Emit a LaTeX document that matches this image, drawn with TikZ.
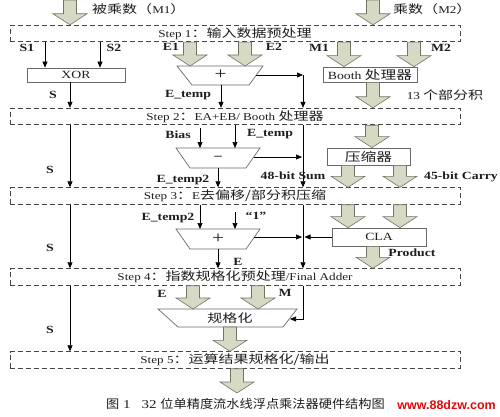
\documentclass[tikz,border=0pt]{standalone}
\usepackage{fontspec}
\setmainfont{Liberation Serif}[FakeStretch=1.25]
\newfontfamily\cjk{Noto Sans CJK SC}[Scale=1.1,FakeStretch=1.3]
\newfontfamily\capcjk{Noto Sans CJK SC}[FakeStretch=1.1]
\newfontfamily\wmfont{Liberation Sans}
\usetikzlibrary{arrows.meta,calc}
\definecolor{fatfill}{RGB}{214,217,196}
\definecolor{fatline}{RGB}{115,115,100}
\definecolor{boxline}{RGB}{105,105,105}
\definecolor{dashline}{RGB}{70,70,70}
\definecolor{txt}{RGB}{30,30,30}
\definecolor{wmred}{RGB}{225,10,10}
\tikzset{
  stepbox/.style={draw=dashline, dash pattern=on 5pt off 3pt, line width=0.9pt,
    minimum width=450pt, minimum height=16.5pt, inner sep=0pt, text=txt},
  procbox/.style={draw=boxline, line width=0.7pt, inner sep=0pt, fill=white, text=txt,
    font=\fontsize{11}{12}\selectfont},
  arr/.style={-{Triangle[length=6pt,width=5pt]}, line width=0.7pt, draw=black},
  fat/.style={fill=fatfill, draw=fatline, line width=0.6pt},
  trap/.style={draw=boxline, line width=0.7pt},
  lbl/.style={inner sep=0pt, text=txt, font=\fontsize{11}{12}\selectfont\bfseries},
}
\newcommand\fatarr[3]{%
  \filldraw[fat] let \p1=#2, \p2=#3 in
    ({#1pt-6.5pt},\y1) -- ({#1pt+6.5pt},\y1) -- ({#1pt+6.5pt},\y2+11pt)
    -- ({#1pt+17pt},\y2+11pt) -- ({#1pt},\y2) -- ({#1pt-17pt},\y2+11pt)
    -- ({#1pt-6.5pt},\y2+11pt) -- cycle;}
\begin{document}
\begin{tikzpicture}[x=1pt,y=-1pt, every node/.style={font=\fontsize{10.5}{12}\selectfont}]
\useasboundingbox[fill=white] (0,0) rectangle (500,417);

% coordinates
\coordinate (inL) at (70,0);
\coordinate (inR) at (373,0);
\coordinate (add1top) at (220,66);
\coordinate (add1b) at (221,85);
\coordinate (add1out) at (256,75);
\coordinate (j1) at (303,75);
\coordinate (subtop) at (218,148);
\coordinate (subb) at (218,168);
\coordinate (subout) at (254,157);
\coordinate (biasin) at (200,128);
\coordinate (j2) at (303,157);
\coordinate (add2top) at (218,229);
\coordinate (add2b) at (218,249);
\coordinate (add2out) at (254,237);
\coordinate (onein) at (235,212);
\coordinate (j3) at (303,237);
\coordinate (normtop) at (230,309);
\coordinate (normbot) at (230,327);
\coordinate (normin) at (290,319);
\coordinate (outB) at (237,393);

% step boxes
\node[stepbox] (st1) at (235,33.5) {Step 1{\cjk ：输入数据预处理}};
\node[stepbox] (st2) at (235,116.5) {Step 2{\cjk ：}EA+EB/ Booth {\cjk 处理器}};
\node[stepbox] (st3) at (235,196) {Step 3{\cjk ：}E{\cjk 去偏移/部分积压缩}};
\node[stepbox] (st4) at (235,277) {Step 4{\cjk ：指数规格化预处理}/Final Adder};
\node[stepbox] (st5) at (235,360) {Step 5{\cjk ：运算结果规格化/输出}};

% process boxes
\node[procbox, minimum width=98pt, minimum height=14pt] (xor) at (76,75) {XOR};
\node[procbox, minimum width=94pt, minimum height=15pt] (booth) at (370,74.5) {Booth {\cjk 处理器}};
\node[procbox, minimum width=83pt, minimum height=17pt] (comp) at (368.5,156.5) {\cjk 压缩器};
\node[procbox, minimum width=94pt, minimum height=18pt] (cla) at (379,237) {CLA};

% trapezoids
\draw[trap] (177,66) -- (263,66) -- (249,85) -- (192,85) -- cycle;
\node[text=txt] (add1) at (220.5,75) {\fontsize{17}{17}\selectfont +};
\draw[trap] (176,148) -- (260,148) -- (246,168) -- (190,168) -- cycle;
\node[text=txt] (sub) at (218,158) {\fontsize{12}{12}\selectfont\bfseries –};
\draw[trap] (176,229) -- (260,229) -- (246,249) -- (190,249) -- cycle;
\node[text=txt] (add2) at (218,239) {\fontsize{17}{17}\selectfont +};
\draw[trap] (158,309) -- (297,309) -- (283,327) -- (178,327) -- cycle;
\node[text=txt] (norm) at (230,318) {\cjk 规格化};

% fat arrows
\fatarr{70}{(inL)}{(st1.north)}
\fatarr{373}{(inR)}{(st1.north)}
\fatarr{190}{(st1.south)}{(add1top)}
\fatarr{245}{(st1.south)}{(add1top)}
\fatarr{344}{(st1.south)}{(booth.north)}
\fatarr{414}{(st1.south)}{(booth.north)}
\fatarr{373}{(booth.south)}{(st2.north)}
\fatarr{372}{(st2.south)}{(comp.north)}
\fatarr{348}{(comp.south)}{(st3.north)}
\fatarr{400}{(comp.south)}{(st3.north)}
\fatarr{348}{(st3.south)}{(cla.north)}
\fatarr{400}{(st3.south)}{(cla.north)}
\fatarr{373}{(cla.south)}{(st4.north)}
\fatarr{193}{(st4.south)}{(normtop)}
\fatarr{258}{(st4.south)}{(normtop)}
\fatarr{230}{(normbot)}{(st5.north)}
\fatarr{237}{(st5.south)}{(outB)}

% thin arrows, step 1
\draw[arr] (st1.south -| 45,0) -- (xor.north -| 45,0);
\draw[arr] (st1.south -| 100,0) -- (xor.north -| 100,0);
\draw[arr] (xor.south -| 70,0) -- (st2.north -| 70,0);
\draw[arr] (add1b) -- (st2.north -| add1b);
\draw[arr] (add1out) -- (j1);
\draw[arr] (j1) -- (st2.north -| j1);
% step 2
\draw[arr] (st2.south -| 70,0) -- (st3.north -| 70,0);
\draw[arr] (biasin) -- (subtop -| biasin);
\draw[arr] (st2.south -| 235,0) -- (subtop -| 235,0);
\draw[arr] (subb) -- (st3.north -| subb);
\draw[arr, shorten >=1pt] (subout) -- (j2);
\draw[arr] (st2.south -| j2) -- (st3.north -| j2);
% step 3
\draw[arr] (st3.south -| 70,0) -- (st4.north -| 70,0);
\draw[arr] (st3.south -| 200,0) -- (add2top -| 200,0);
\draw[arr] (onein) -- (add2top -| onein);
\draw[arr] (add2b) -- (st4.north -| add2b);
\draw[arr, shorten >=1pt] (add2out) -- (j3);
\draw[arr, shorten >=1.5pt] (cla.west) -- (j3);
\draw[arr] (st3.south -| j3) -- (st4.north -| j3);
% step 4
\draw[arr] (st4.south -| 70,0) -- (st5.north -| 70,0);
\draw[arr] (st4.south -| 303,0) |- (normin);

% labels
\node[lbl, anchor=west, font=\fontsize{10.5}{12}\selectfont] (lm1) at (92,9) {{\cjk 被乘数（}M1{\cjk ）}};
\node[lbl, anchor=west, font=\fontsize{10.5}{12}\selectfont] (lm2) at (393,9) {{\cjk 乘数（}M2{\cjk ）}};
\node[lbl] (ls1) at (27,48) {S1};
\node[lbl] (ls2) at (114,48) {S2};
\node[lbl] (lsa) at (53,95) {S};
\node[lbl] (le1) at (171,47) {E1};
\node[lbl] (le2) at (274,47) {E2};
\node[lbl] (lbm1) at (319,48) {M1};
\node[lbl] (lbm2) at (441,48) {M2};
\node[lbl] (let1) at (188,95) {E\_temp};
\node[lbl, font=\fontsize{10.5}{12}\selectfont] (l13) at (445,95) {13 {\cjk 个部分积}};
\node[lbl] (lsb) at (50,170) {S};
\node[lbl] (lbias) at (178,135) {Bias};
\node[lbl] (let2) at (270,134) {E\_temp};
\node[lbl] (let3) at (183,180) {E\_temp2};
\node[lbl] (lsum) at (293,176) {48-bit Sum};
\node[lbl] (lcarry) at (461,177) {45-bit Carry};
\node[lbl] (lsc) at (50,248) {S};
\node[lbl] (let4) at (168,218) {E\_temp2};
\node[lbl] (lone) at (256,216) {“1”};
\node[lbl] (le3) at (238,262) {E};
\node[lbl] (lprod) at (412,253) {Product};
\node[lbl] (lsd) at (50,330) {S};
\node[lbl] (le4) at (162,294) {E};
\node[lbl] (lm) at (285,293) {M};

% caption and watermark
\node[anchor=west, inner sep=0pt, text=txt, font=\fontsize{12}{14}\selectfont] (cap) at (106,404)
  {{\capcjk 图} 1\hspace{11pt}32 {\capcjk 位单精度流水线浮点乘法器硬件结构图}};
\node[anchor=east, inner sep=0pt, text=wmred, font=\wmfont\bfseries\fontsize{12.5}{14}\selectfont] (wm) at (496,405) {www.88dzw.com};
\end{tikzpicture}
\end{document}
